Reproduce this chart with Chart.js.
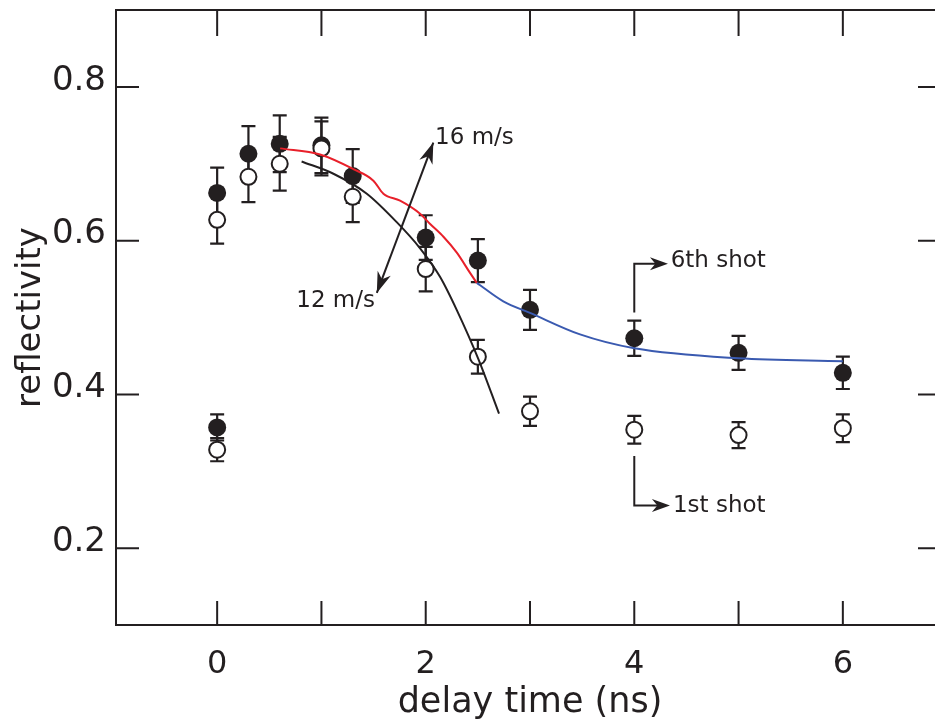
<!DOCTYPE html>
<html><head><meta charset="utf-8">
<script src="https://cdn.jsdelivr.net/npm/chart.js@4/dist/chart.umd.min.js"></script>
<style>html,body{margin:0;padding:0;background:#fff;overflow:hidden;width:935px;height:724px}canvas{display:block}</style>
</head><body>
<canvas id="c" width="960" height="724"></canvas>
<script>
// ---- axis ticks ----
const xTickValues = [0, 2, 4, 6];
const xTickLabels = ['0', '2', '4', '6'];
const xInnerTicks = [0, 1, 2, 3, 4, 5, 6];
const yTickValues = [0.2, 0.4, 0.6, 0.8];
const yTickLabels = ['0.2', '0.4', '0.6', '0.8'];

// ---- 6th shot (filled circles) ----
const shot6X   = [0, 0.3, 0.6, 1.0, 1.3, 2.0, 2.5, 3.0, 4.0, 5.0, 6.0, 0];
const shot6Y   = [0.662, 0.713, 0.726, 0.724, 0.684, 0.604, 0.574, 0.510, 0.473, 0.454, 0.428, 0.357];
const shot6Err = [0.033, 0.036, 0.037, 0.036, 0.035, 0.029, 0.028, 0.026, 0.023, 0.022, 0.021, 0.017];

// ---- 1st shot (open circles) ----
const shot1X   = [0, 0.3, 0.6, 1.0, 1.3, 2.0, 2.5, 3.0, 4.0, 5.0, 6.0, 0];
const shot1Y   = [0.627, 0.683, 0.700, 0.720, 0.657, 0.563, 0.449, 0.378, 0.354, 0.347, 0.356, 0.328];
const shot1Err = [0.031, 0.033, 0.035, 0.035, 0.033, 0.029, 0.022, 0.019, 0.018, 0.017, 0.018, 0.015];

// ---- fit curves ----
const redX  = [0.604, 0.987, 1.306, 1.498, 1.594, 1.754, 1.946, 2.04, 2.17, 2.30, 2.425, 2.49];
const redY  = [0.720, 0.712, 0.693, 0.678, 0.661, 0.652, 0.635, 0.622, 0.605, 0.584, 0.558, 0.545];
const blueX = [2.49, 2.744, 3.0, 3.48, 4.0, 5.0, 6.0];
const blueY = [0.545, 0.521, 0.506, 0.478, 0.460, 0.447, 0.443];
const blackX = [0.81, 1.115, 1.435, 1.722, 1.946, 2.137, 2.297, 2.505, 2.703];
const blackY = [0.703, 0.687, 0.661, 0.624, 0.590, 0.553, 0.510, 0.446, 0.375];

// ---- annotations (data units) ----
const velArrow = {x1: 1.531, y1: 0.532, x2: 2.073, y2: 0.7275};
const label16 = {text: '16 m/s', x: 2.09, y: 0.734};
const label12 = {text: '12 m/s', x: 1.136, y: 0.522};
const shot6Bracket = {x: 4.0, yFrom: 0.5064, yTo: 0.570, xTip: 4.323};
const shot6Label = {text: '6th shot', x: 4.349, y: 0.5734};
const shot1Bracket = {x: 4.0, yFrom: 0.3198, yTo: 0.2554, xTip: 4.342};
const shot1Label = {text: '1st shot', x: 4.371, y: 0.2554};

const INK = '#231f20';
const zip = (xs, ys) => xs.map((v, i) => ({x: v, y: ys[i]}));

function arrowHead(ctx, fx, fy, tx, ty, len, wid) {
  const dx = tx - fx, dy = ty - fy, d = Math.hypot(dx, dy);
  const ux = dx / d, uy = dy / d, px = -uy, py = ux;
  const bx = tx - ux * len, by = ty - uy * len;
  const nx = tx - ux * len * 0.7, ny = ty - uy * len * 0.7;
  ctx.beginPath();
  ctx.moveTo(tx, ty);
  ctx.lineTo(bx + px * wid / 2, by + py * wid / 2);
  ctx.lineTo(nx, ny);
  ctx.lineTo(bx - px * wid / 2, by - py * wid / 2);
  ctx.closePath();
  ctx.fill();
}

const framePlugin = {
  id: 'frame',
  beforeDatasetsDraw(chart) {
    const {ctx, scales: {x, y}} = chart;
    ctx.save();
    ctx.strokeStyle = INK; ctx.lineWidth = 2.2;
    const bars = (X, Y, E) => X.forEach((v, i) => {
      const px = x.getPixelForValue(v);
      const t = y.getPixelForValue(Y[i] + E[i]);
      const b = y.getPixelForValue(Y[i] - E[i]);
      ctx.beginPath();
      ctx.moveTo(px, t); ctx.lineTo(px, b);
      ctx.moveTo(px - 7, t); ctx.lineTo(px + 7, t);
      ctx.moveTo(px - 7, b); ctx.lineTo(px + 7, b);
      ctx.stroke();
    });
    bars(shot6X, shot6Y, shot6Err);
    bars(shot1X, shot1Y, shot1Err);
    ctx.restore();
  },
  afterDatasetsDraw(chart) {
    const {ctx, chartArea: a, scales: {x, y}} = chart;
    ctx.save();
    ctx.strokeStyle = INK; ctx.fillStyle = INK; ctx.lineWidth = 2;
    ctx.strokeRect(a.left, a.top, a.right - a.left, a.bottom - a.top);
    ctx.beginPath();
    xInnerTicks.forEach(v => {
      const p = x.getPixelForValue(v);
      ctx.moveTo(p, a.bottom); ctx.lineTo(p, a.bottom - 24);
      ctx.moveTo(p, a.top); ctx.lineTo(p, a.top + 26);
    });
    yTickValues.forEach(v => {
      const p = y.getPixelForValue(v);
      ctx.moveTo(a.left, p); ctx.lineTo(a.left + 23, p);
      ctx.moveTo(a.right, p); ctx.lineTo(a.right - 26, p);
    });
    ctx.stroke();

    // velocity arrow (double headed)
    const ax1 = x.getPixelForValue(velArrow.x1), ay1 = y.getPixelForValue(velArrow.y1);
    const ax2 = x.getPixelForValue(velArrow.x2), ay2 = y.getPixelForValue(velArrow.y2);
    ctx.beginPath(); ctx.moveTo(ax1, ay1); ctx.lineTo(ax2, ay2); ctx.stroke();
    arrowHead(ctx, ax1, ay1, ax2, ay2, 21, 14);
    arrowHead(ctx, ax2, ay2, ax1, ay1, 21, 14);

    // brackets
    [shot6Bracket, shot1Bracket].forEach(b => {
      const px = x.getPixelForValue(b.x);
      const p1 = y.getPixelForValue(b.yFrom), p2 = y.getPixelForValue(b.yTo);
      const tip = x.getPixelForValue(b.xTip);
      ctx.beginPath(); ctx.moveTo(px, p1); ctx.lineTo(px, p2); ctx.lineTo(tip - 6, p2); ctx.stroke();
      arrowHead(ctx, px, p2, tip, p2, 18, 13);
    });

    ctx.font = '23px "DejaVu Sans"';
    ctx.textBaseline = 'middle';
    ctx.textAlign = 'left';
    [label16, shot6Label, shot1Label].forEach(l => ctx.fillText(l.text, x.getPixelForValue(l.x), y.getPixelForValue(l.y)));
    ctx.textAlign = 'center';
    ctx.fillText(label12.text, x.getPixelForValue(label12.x), y.getPixelForValue(label12.y));
    ctx.restore();
  }
};

Chart.defaults.font.family = '"DejaVu Sans"';
Chart.defaults.color = INK;

const noPad = s => { s.paddingTop = 0; s.paddingBottom = 0; s.paddingLeft = 0; s.paddingRight = 0; };

new Chart(document.getElementById('c'), {
  type: 'scatter',
  data: {
    datasets: [
      {data: zip(redX, redY), showLine: true, pointRadius: 0, borderColor: '#e8202a', borderWidth: 2, cubicInterpolationMode: 'monotone', order: 0},
      {data: zip(blueX, blueY), showLine: true, pointRadius: 0, borderColor: '#3a5ab0', borderWidth: 2, cubicInterpolationMode: 'monotone', order: 0},
      {data: zip(blackX, blackY), showLine: true, pointRadius: 0, borderColor: INK, borderWidth: 2, cubicInterpolationMode: 'monotone', order: 0},
      {data: zip(shot1X, shot1Y), pointRadius: 8, pointBackgroundColor: '#ffffff', pointBorderColor: INK, pointBorderWidth: 2, order: 1},
      {data: zip(shot6X, shot6Y), pointRadius: 9, pointBackgroundColor: INK, pointBorderColor: INK, pointBorderWidth: 0, order: 2}
    ]
  },
  options: {
    responsive: false,
    animation: false,
    events: [],
    layout: {padding: {top: 5, right: 16, left: 0, bottom: 0}},
    plugins: {legend: {display: false}, tooltip: {enabled: false}},
    scales: {
      x: {
        type: 'linear', min: -0.97, max: 6.97,
        grid: {display: false},
        border: {display: false},
        afterBuildTicks: s => { s.ticks = xTickValues.map(v => ({value: v})); },
        afterFit: s => { s.height = 99; noPad(s); },
        ticks: {font: {size: 32}, padding: 12, callback: (v) => xTickLabels[xTickValues.indexOf(v)]},
        title: {display: true, text: 'delay time (ns)', font: {size: 35}, padding: {top: 6, bottom: 0}}
      },
      y: {
        type: 'linear', min: 0.1, max: 0.9,
        grid: {display: false},
        border: {display: false},
        afterBuildTicks: s => { s.ticks = yTickValues.map(v => ({value: v})); },
        afterFit: s => { s.width = 116; noPad(s); },
        ticks: {font: {size: 34}, padding: 2, labelOffset: -6, callback: (v) => yTickLabels[yTickValues.findIndex(t => Math.abs(t - v) < 1e-9)]},
        title: {display: true, text: 'reflectivity', font: {size: 34}, padding: {top: 11, bottom: 0}}
      }
    }
  },
  plugins: [framePlugin]
});
</script>
</body></html>
